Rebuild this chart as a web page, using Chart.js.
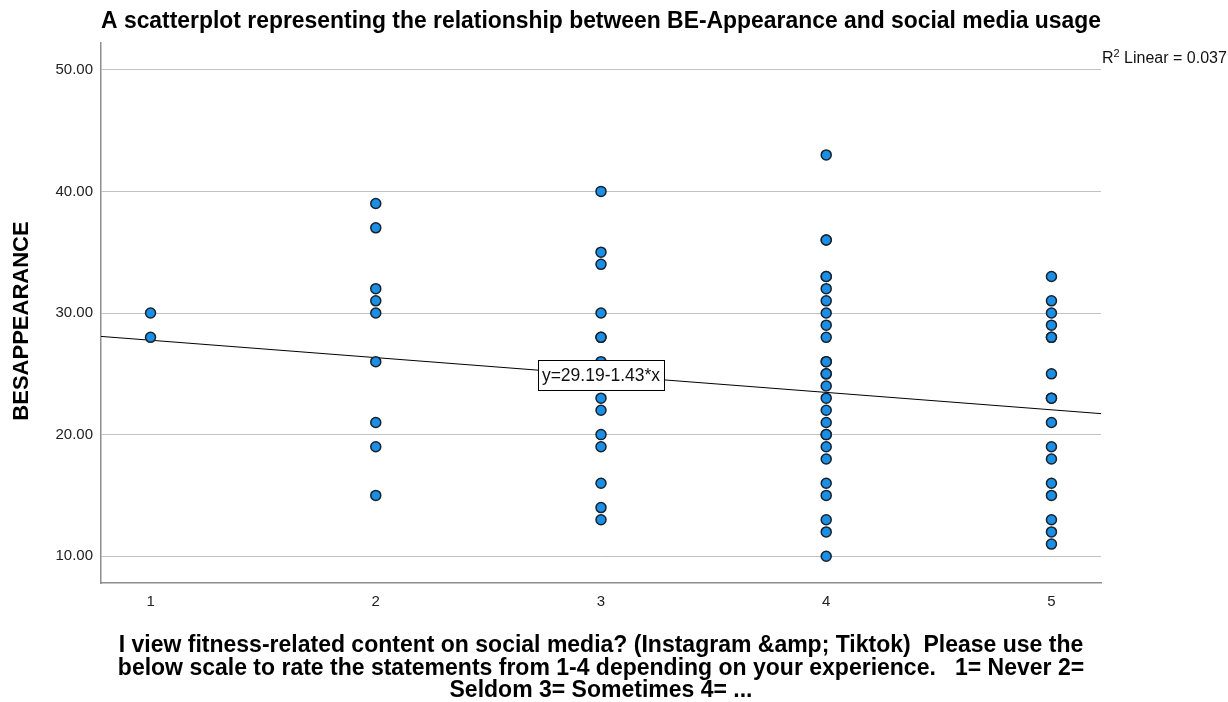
<!DOCTYPE html>
<html>
<head>
<meta charset="utf-8">
<script src="https://cdn.jsdelivr.net/npm/chart.js@4.4.1/dist/chart.umd.min.js"></script>
<style>
  html, body { margin: 0; padding: 0; background: #ffffff; }
  #wrap { width: 1228px; height: 702px; }
</style>
</head>
<body>
<div id="wrap"><canvas id="chart" width="1228" height="702"></canvas></div>
<script>
// Response scale (x) and body-esteem appearance score ticks (y)
const usageLevels = [1, 2, 3, 4, 5];
const yTickValues = [10, 20, 30, 40, 50];

// BESAPPEARANCE scores grouped by social media usage response
const usage1 = [30, 28];
const usage2 = [39, 37, 32, 31, 30, 26, 21, 19, 15];
const usage3 = [40, 35, 34, 30, 28, 28, 26, 23, 22, 20, 19, 16, 14, 13];
const usage4 = [43, 36, 36, 33, 33, 32, 31, 30, 29, 28, 26, 26, 25, 25, 24, 23, 22, 21, 20, 20, 19, 18, 16, 15, 13, 12, 10];
const usage5 = [33, 31, 30, 29, 28, 28, 25, 23, 23, 21, 19, 18, 16, 15, 13, 12, 11];

// Linear fit
const fitIntercept = 29.19;
const fitSlope = -1.43;
const rSquared = 0.037;

const X_MIN = 0.78, X_MAX = 5.22;
const Y_MIN = 7.8, Y_MAX = 52.2;

const FONT = '"Liberation Sans", Arial, Helvetica, sans-serif';

const groups = [usage1, usage2, usage3, usage4, usage5];
const points = [];
groups.forEach((vals, i) => vals.forEach(v => points.push({ x: usageLevels[i], y: v })));

const fit = x => fitIntercept + fitSlope * x;

const overlay = {
  id: 'overlay',
  afterDatasetsDraw(chart) {
    const { ctx, scales: { x, y } } = chart;
    // equation label on the fit line at x = 3
    const ex = 3;
    const px = x.getPixelForValue(ex);
    const py = y.getPixelForValue(fit(ex));
    const label = 'y=' + fitIntercept.toFixed(2) + (fitSlope < 0 ? '-' : '+') + Math.abs(fitSlope).toFixed(2) + '*x';
    ctx.save();
    ctx.font = '17.5px ' + FONT;
    const w = Math.round(ctx.measureText(label).width + 8);
    const h = 30;
    const bx = Math.round(px - w / 2) + 0.5;
    const by = Math.round(py - h / 2) + 0.5;
    ctx.fillStyle = '#ffffff';
    ctx.fillRect(bx, by, w, h);
    ctx.strokeStyle = '#000000';
    ctx.lineWidth = 1;
    ctx.strokeRect(bx, by, w, h);
    ctx.fillStyle = '#111111';
    ctx.textAlign = 'center';
    ctx.textBaseline = 'middle';
    ctx.fillText(label, px, py + 1);
    ctx.restore();
  },
  afterDraw(chart) {
    const { ctx, chartArea } = chart;
    ctx.save();
    // y-axis title
    ctx.translate(22, 321);
    ctx.rotate(-Math.PI / 2);
    ctx.font = 'bold 22px ' + FONT;
    ctx.fillStyle = '#000000';
    ctx.textAlign = 'center';
    ctx.textBaseline = 'middle';
    ctx.fillText('BESAPPEARANCE', 0, 0);
    ctx.restore();

    // R squared note, top right
    ctx.save();
    ctx.fillStyle = '#111111';
    ctx.textBaseline = 'alphabetic';
    ctx.textAlign = 'left';
    let tx = chartArea.right + 1;
    const base = 63;
    ctx.font = '16px ' + FONT;
    ctx.fillText('R', tx, base);
    tx += ctx.measureText('R').width;
    ctx.font = '11px ' + FONT;
    ctx.fillText('2', tx, base - 6);
    tx += ctx.measureText('2').width;
    ctx.font = '16px ' + FONT;
    ctx.fillText(' Linear = ' + rSquared.toFixed(3), tx, base);
    ctx.restore();
  }
};

new Chart(document.getElementById('chart'), {
  data: {
    datasets: [
      {
        type: 'scatter',
        data: points,
        order: 0,
        pointRadius: 5,
        pointHoverRadius: 5,
        pointBackgroundColor: '#1b8fe6',
        pointBorderColor: '#18222c',
        pointBorderWidth: 1.5
      },
      {
        type: 'line',
        data: [{ x: X_MIN, y: fit(X_MIN) }, { x: X_MAX, y: fit(X_MAX) }],
        order: 1,
        borderColor: '#000000',
        borderWidth: 1,
        pointRadius: 0,
        fill: false,
        tension: 0
      }
    ]
  },
  options: {
    responsive: false,
    animation: false,
    devicePixelRatio: 1,
    layout: { padding: { top: 0, left: 0, right: 127, bottom: 0 } },
    plugins: {
      legend: { display: false },
      tooltip: { enabled: false },
      title: {
        display: true,
        fullSize: false,
        text: 'A scatterplot representing the relationship between BE-Appearance and social media usage',
        color: '#000000',
        font: { family: FONT, size: 23, weight: 'bold', lineHeight: 1.2 },
        padding: { top: 7.5, bottom: 7.9 }
      }
    },
    scales: {
      x: {
        type: 'linear',
        min: X_MIN,
        max: X_MAX,
        afterBuildTicks: s => { s.ticks = usageLevels.map(v => ({ value: v })); },
        afterFit: s => { s.height = 119; },
        ticks: {
          callback: v => String(v),
          color: '#222222',
          font: { family: FONT, size: 15 },
          padding: 10,
          maxRotation: 0,
          autoSkip: false
        },
        grid: { display: false, drawTicks: false },
        border: { display: true, color: '#8e8e8e', width: 1.5 },
        title: {
          display: true,
          text: [
            'I view fitness-related content on social media? (Instagram &amp; Tiktok)  Please use the',
            'below scale to rate the statements from 1-4 depending on your experience.   1= Never 2=',
            'Seldom 3= Sometimes 4= ...'
          ],
          color: '#000000',
          font: { family: FONT, size: 23, weight: 'bold', lineHeight: '22.5px' },
          padding: { top: 4, bottom: 0 }
        }
      },
      y: {
        type: 'linear',
        min: Y_MIN,
        max: Y_MAX,
        afterBuildTicks: s => { s.ticks = yTickValues.map(v => ({ value: v })); },
        afterFit: s => { s.width = 101; },
        ticks: {
          callback: v => Number(v).toFixed(2),
          color: '#222222',
          font: { family: FONT, size: 15 },
          padding: 8
        },
        grid: { display: true, color: '#c2c2c2', lineWidth: 1, drawTicks: false },
        border: { display: true, color: '#8e8e8e', width: 1.5 }
      }
    }
  },
  plugins: [overlay]
});
</script>
</body>
</html>
